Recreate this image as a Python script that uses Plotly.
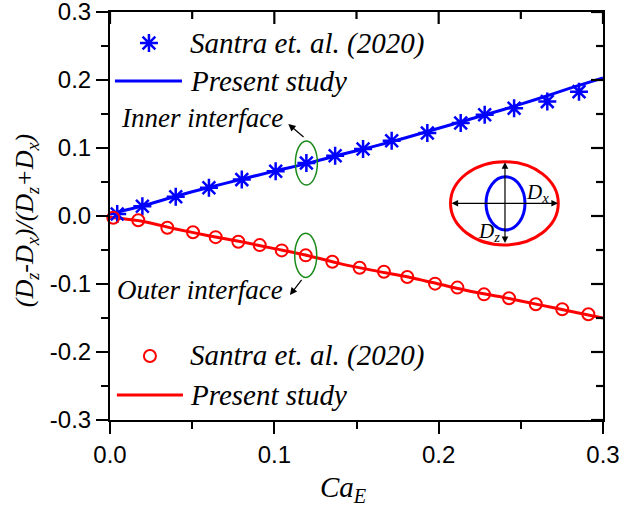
import plotly.graph_objects as go

# Santra et al. (2020) reference points
ca_inner = [0.0044, 0.0197, 0.0400, 0.0602, 0.0802, 0.1008, 0.1195, 0.1370,
            0.1540, 0.1714, 0.1931, 0.2134, 0.2280, 0.2459, 0.2661, 0.2854]
def_inner = [0.003, 0.0144, 0.0282, 0.0414, 0.0535, 0.0657, 0.0780, 0.0887,
             0.0985, 0.1107, 0.1219, 0.1366, 0.1488, 0.1585, 0.1682, 0.1829]

ca_outer = [0.0020, 0.0172, 0.0349, 0.0505, 0.0643, 0.0781, 0.0911, 0.1045,
            0.1191, 0.1353, 0.1519, 0.1667, 0.1809, 0.1978, 0.2114, 0.2276,
            0.2428, 0.2591, 0.2752, 0.2911]
def_outer = [-0.0026, -0.0062, -0.0173, -0.0238, -0.0311, -0.0379, -0.0428, -0.0506,
             -0.0579, -0.0672, -0.0760, -0.0819, -0.0898, -0.0995, -0.1053, -0.1152,
             -0.1210, -0.1298, -0.1372, -0.1445]

# Present study curves
ca_line = [0.00, 0.02, 0.04, 0.06, 0.08, 0.10, 0.12, 0.14, 0.16, 0.18, 0.20,
           0.22, 0.24, 0.26, 0.28, 0.30]
inner_line = [0.003, 0.015, 0.029, 0.042, 0.054, 0.066, 0.077, 0.090, 0.102,
              0.115, 0.129, 0.143, 0.157, 0.172, 0.188, 0.203]
outer_line = [-0.002, -0.008, -0.019, -0.029, -0.038, -0.048, -0.058, -0.070,
              -0.080, -0.089, -0.100, -0.111, -0.120, -0.130, -0.140, -0.150]

x_ticks = [0.0, 0.1, 0.2, 0.3]
x_ticktext = ["0.0", "0.1", "0.2", "0.3"]
y_ticks = [-0.3, -0.2, -0.1, 0.0, 0.1, 0.2, 0.3]
y_ticktext = ["-0.3", "-0.2", "-0.1", "0.0", "0.1", "0.2", "0.3"]
x_range = [0.0, 0.3]
y_range = [-0.3, 0.3]

legend_ref = "Santra et. al. (2020)"
legend_present = "Present study"

BLUE = "#0000ff"
RED = "#ff0000"
GREEN = "#1a8a1a"
SERIF = "Liberation Serif, Times New Roman, serif"
SANS = "Liberation Sans, Arial, sans-serif"

W, H = 619, 513
M_L, M_R, M_T, M_B = 110, 16, 12, 93
PLOT_W, PLOT_H = W - M_L - M_R, H - M_T - M_B
MAJOR_LEN, MINOR_LEN = 12, 7

fig = go.Figure()

fig.add_trace(go.Scatter(x=ca_line, y=inner_line, mode="lines",
                         line=dict(color=BLUE, width=3, shape="spline", smoothing=0.6),
                         showlegend=False, cliponaxis=False))
fig.add_trace(go.Scatter(x=ca_line, y=outer_line, mode="lines",
                         line=dict(color=RED, width=3, shape="spline", smoothing=0.6),
                         showlegend=False, cliponaxis=False))
fig.add_trace(go.Scatter(x=ca_inner, y=def_inner, mode="markers",
                         marker=dict(symbol="asterisk-open", size=15, color=BLUE,
                                     line=dict(color=BLUE, width=2.5)),
                         showlegend=False, cliponaxis=False))
fig.add_trace(go.Scatter(x=ca_outer, y=def_outer, mode="markers",
                         marker=dict(symbol="circle-open", size=12, color=RED,
                                     line=dict(color=RED, width=2)),
                         showlegend=False, cliponaxis=False))

# inward ticks on the top and right frame edges, in data units of the main axes
x_minor = [(a + b) / 2 for a, b in zip(x_ticks[:-1], x_ticks[1:])]
y_minor = [(a + b) / 2 for a, b in zip(y_ticks[:-1], y_ticks[1:])]
x_per_px = (x_range[1] - x_range[0]) / PLOT_W
y_per_px = (y_range[1] - y_range[0]) / PLOT_H
tx, ty = [], []
for vals, ln in [(x_ticks, MAJOR_LEN), (x_minor, MINOR_LEN)]:
    for v in vals:
        tx += [v, v, None]
        ty += [y_range[1], y_range[1] - ln * y_per_px, None]
for vals, ln in [(y_ticks, MAJOR_LEN), (y_minor, MINOR_LEN)]:
    for v in vals:
        tx += [x_range[1], x_range[1] - ln * x_per_px, None]
        ty += [v, v, None]
fig.add_trace(go.Scatter(x=tx, y=ty, mode="lines",
                         line=dict(color="black", width=2.2), connectgaps=False,
                         showlegend=False, hoverinfo="skip", cliponaxis=False))

# legend glyphs on a hidden unit-square axis pair
fig.add_trace(go.Scatter(x=[0.079], y=[0.924], xaxis="x3", yaxis="y3", mode="markers",
                         marker=dict(symbol="asterisk-open", size=15, color=BLUE,
                                     line=dict(color=BLUE, width=2.5)),
                         showlegend=False, hoverinfo="skip", cliponaxis=False))
fig.add_trace(go.Scatter(x=[0.010, 0.146], y=[0.831, 0.831], xaxis="x3", yaxis="y3",
                         mode="lines", line=dict(color=BLUE, width=3),
                         showlegend=False, hoverinfo="skip", cliponaxis=False))
fig.add_trace(go.Scatter(x=[0.081], y=[0.157], xaxis="x3", yaxis="y3", mode="markers",
                         marker=dict(symbol="circle-open", size=12, color=RED,
                                     line=dict(color=RED, width=2)),
                         showlegend=False, hoverinfo="skip", cliponaxis=False))
fig.add_trace(go.Scatter(x=[0.014, 0.148], y=[0.061, 0.061], xaxis="x3", yaxis="y3",
                         mode="lines", line=dict(color=RED, width=3),
                         showlegend=False, hoverinfo="skip", cliponaxis=False))

ann = []
for txt, ly in [(legend_ref, 0.924), (legend_present, 0.831),
                (legend_ref, 0.157), (legend_present, 0.061)]:
    ann.append(dict(x=0.158, y=ly, xref="paper", yref="paper", text=f"<i>{txt}</i>",
                    showarrow=False, xanchor="left", yanchor="middle",
                    font=dict(family=SERIF, size=29, color="black")))

# highlight the two interfaces at the same capillary number
hx, hy = 0.0067, 0.0324
i_sel = 6
o_sel = 8
shapes = [
    dict(type="circle", xref="x", yref="y",
         x0=ca_inner[i_sel] - hx, x1=ca_inner[i_sel] + hx,
         y0=def_inner[i_sel] - hy, y1=def_inner[i_sel] + hy,
         line=dict(color=GREEN, width=1.5)),
    dict(type="circle", xref="x", yref="y",
         x0=ca_outer[o_sel] - hx, x1=ca_outer[o_sel] + hx,
         y0=def_outer[o_sel] - hy, y1=def_outer[o_sel] + hy,
         line=dict(color=GREEN, width=1.5)),
]

ann += [
    dict(x=0.1085, y=0.1353, ax=0.1187, ay=0.1143, xref="x", yref="y",
         axref="x", ayref="y", text="", showarrow=True, arrowhead=2,
         arrowsize=1.2, arrowwidth=1.2, arrowcolor="black"),
    dict(x=0.1095, y=-0.1162, ax=0.1173, ay=-0.0916, xref="x", yref="y",
         axref="x", ayref="y", text="", showarrow=True, arrowhead=2,
         arrowsize=1.2, arrowwidth=1.2, arrowcolor="black"),
    dict(x=0.1065, y=0.1445, xref="x", yref="y", text="<i>Inner interface</i>",
         showarrow=False, xanchor="right", yanchor="middle",
         font=dict(family=SERIF, size=27, color="black")),
    dict(x=0.1065, y=-0.1085, xref="x", yref="y", text="<i>Outer interface</i>",
         showarrow=False, xanchor="right", yanchor="middle",
         font=dict(family=SERIF, size=27, color="black")),
]

# inset sketch of the compound drop (unit-square coordinates of x3/y3)
shapes += [
    dict(type="circle", xref="paper", yref="paper", x0=0.6907, x1=0.9093,
         y0=0.4289, y1=0.6331, line=dict(color=RED, width=3)),
    dict(type="circle", xref="paper", yref="paper", x0=0.7627, x1=0.8418,
         y0=0.4657, y1=0.5963, line=dict(color=BLUE, width=3)),
]
ann += [
    dict(x=0.9087, y=0.5311, ax=0.6897, ay=0.5311, xref="x3", yref="y3",
         axref="x3", ayref="y3", text="", showarrow=True, arrowhead=2,
         startarrowhead=2, arrowside="end+start", arrowsize=1.1, arrowwidth=1.2,
         arrowcolor="black"),
    dict(x=0.8012, y=0.4338, ax=0.8012, ay=0.6355, xref="x3", yref="y3",
         axref="x3", ayref="y3", text="", showarrow=True, arrowhead=2,
         startarrowhead=2, arrowside="end+start", arrowsize=1.1, arrowwidth=1.2,
         arrowcolor="black"),
    dict(x=0.868, y=0.5564, xref="paper", yref="paper", text="<i>D<sub>x</sub></i>",
         showarrow=False, xanchor="center", yanchor="middle",
         font=dict(family=SERIF, size=21, color="black")),
    dict(x=0.7688, y=0.4608, xref="paper", yref="paper", text="<i>D<sub>z</sub></i>",
         showarrow=False, xanchor="center", yanchor="middle",
         font=dict(family=SERIF, size=21, color="black")),
]

# axis titles
ann += [
    dict(x=0.4746, y=-0.169, xref="paper", yref="paper", text="<i>Ca<sub>E</sub></i>",
         showarrow=False, xanchor="center", yanchor="middle",
         font=dict(family=SERIF, size=29, color="black")),
    dict(x=-0.170, y=0.490, xref="paper", yref="paper", textangle=-90,
         text="<i>(D<sub>z</sub>-D<sub>x</sub>)/(D<sub>z</sub>+D<sub>x</sub>)</i>",
         showarrow=False, xanchor="center", yanchor="middle",
         font=dict(family=SERIF, size=26, color="black")),
]

common = dict(showgrid=False, zeroline=False, tickcolor="black", tickwidth=2)

fig.update_layout(
    width=W, height=H,
    margin=dict(l=M_L, r=M_R, t=M_T, b=M_B),
    plot_bgcolor="white", paper_bgcolor="white",
    showlegend=False,
    xaxis=dict(range=x_range, tickvals=x_ticks, ticktext=x_ticktext,
               ticks="outside", ticklen=MAJOR_LEN, showline=True, linecolor="black",
               linewidth=2, mirror=True, ticklabeloverflow="allow", automargin=False,
               minor=dict(ticks="outside", ticklen=MINOR_LEN, tickvals=x_minor,
                          tickcolor="black", tickwidth=2),
               tickfont=dict(family=SANS, size=24, color="black"), **common),
    yaxis=dict(range=y_range, tickvals=y_ticks, ticktext=y_ticktext,
               ticks="outside", ticklen=MAJOR_LEN, showline=True, linecolor="black",
               linewidth=2, mirror=True, ticklabeloverflow="allow", automargin=False,
               minor=dict(ticks="outside", ticklen=MINOR_LEN, tickvals=y_minor,
                          tickcolor="black", tickwidth=2),
               tickfont=dict(family=SANS, size=24, color="black"), **common),
    xaxis3=dict(range=[0, 1], overlaying="x", visible=False, anchor="y3"),
    yaxis3=dict(range=[0, 1], overlaying="y", visible=False, anchor="x3"),
    shapes=shapes,
    annotations=ann,
)

fig.write_html("out.html")
